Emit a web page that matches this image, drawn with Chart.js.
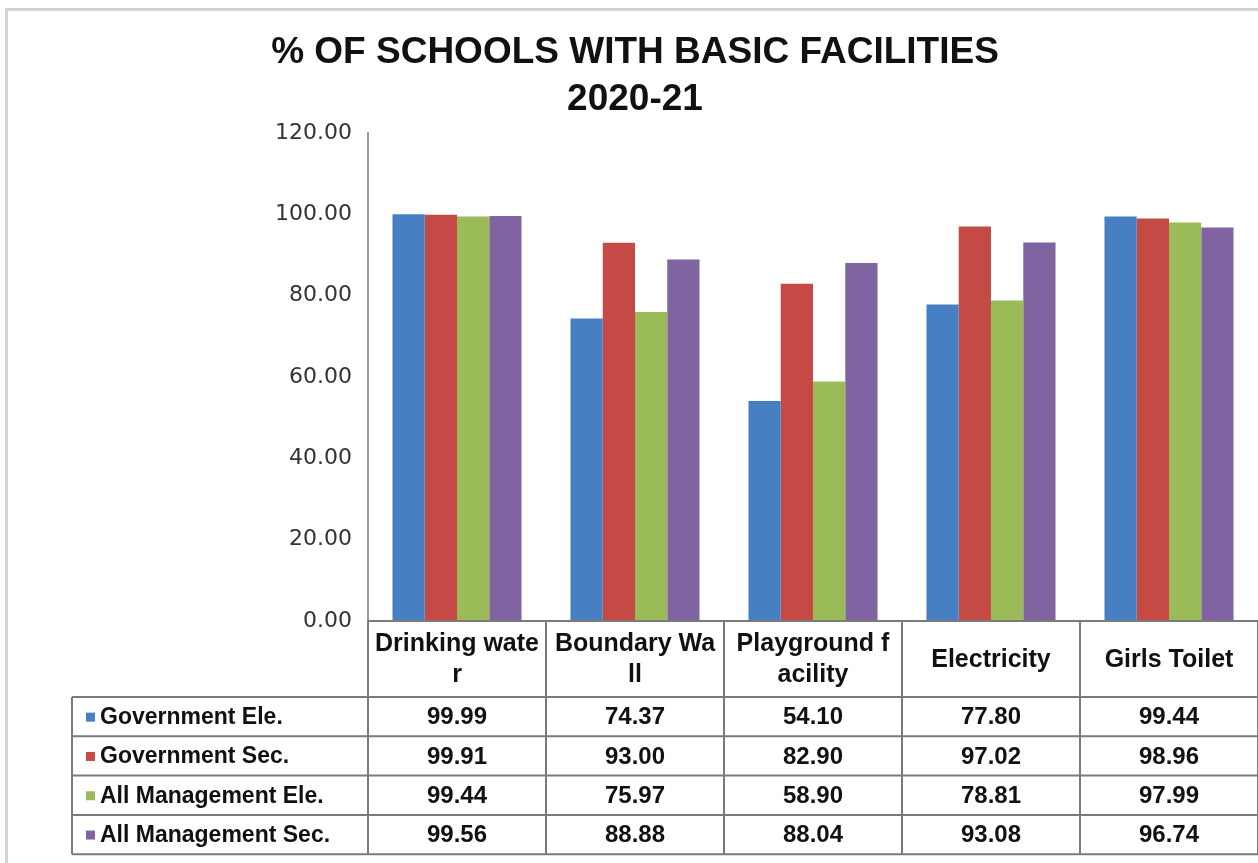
<!DOCTYPE html>
<html><head><meta charset="utf-8">
<script src="https://cdn.jsdelivr.net/npm/chart.js@4"></script>
<style>html,body{margin:0;padding:0;background:#fff;overflow:hidden}#wrap{position:relative;width:1258px;height:863px}</style>
</head><body><div id="wrap"><canvas id="c" width="1258" height="863"></canvas></div>
<script>
const titleLines = ['% OF SCHOOLS WITH BASIC FACILITIES', '2020-21'];
const categories = [['Drinking wate', 'r'], ['Boundary Wa', 'll'], ['Playground f', 'acility'], 'Electricity', 'Girls Toilet'];
const seriesNames = ['Government Ele.', 'Government Sec.', 'All Management Ele.', 'All Management Sec.'];
const govEle = [99.99, 74.37, 54.10, 77.80, 99.44];
const govSec = [99.91, 93.00, 82.90, 97.02, 98.96];
const allEle = [99.44, 75.97, 58.90, 78.81, 97.99];
const allSec = [99.56, 88.88, 88.04, 93.08, 96.74];
const yMin = 0, yMax = 120, yStep = 20;
const colors = ['#4680C2', '#C54A45', '#9BBB59', '#8064A2'];

const seriesValues = [govEle, govSec, allEle, allSec];

const framePlugin = {
  id: 'frame',
  beforeDraw(chart) {
    const ctx = chart.ctx;
    ctx.save();
    ctx.fillStyle = '#fff';
    ctx.fillRect(0, 0, chart.width, chart.height);
    ctx.strokeStyle = '#d2d2d2';
    ctx.lineWidth = 3;
    ctx.beginPath();
    ctx.moveTo(5, 9.5); ctx.lineTo(chart.width, 9.5);
    ctx.moveTo(6.5, 9); ctx.lineTo(6.5, chart.height);
    ctx.stroke();
    ctx.restore();
  }
};

const tablePlugin = {
  id: 'dataTable',
  afterDraw(chart) {
    const ctx = chart.ctx, ca = chart.chartArea, xs = chart.scales.x;
    const n = chart.data.labels.length;
    const colW = (ca.right - ca.left) / n;
    const top = ca.bottom;
    const headerH = 76;
    const rowH = 39.3;
    const left = 72;
    const nRows = chart.data.datasets.length;
    const rowsTop = top + headerH;
    const bottom = rowsTop + nRows * rowH;
    ctx.save();
    ctx.strokeStyle = '#7a7a7a';
    ctx.lineWidth = 2;
    ctx.beginPath();
    ctx.moveTo(ca.left, top); ctx.lineTo(ca.right, top);
    for (let i = 0; i <= nRows; i++) {
      const y = rowsTop + i * rowH;
      ctx.moveTo(left, y); ctx.lineTo(ca.right, y);
    }
    ctx.moveTo(left, rowsTop); ctx.lineTo(left, bottom);
    for (let k = 0; k <= n; k++) {
      const x = ca.left + k * colW;
      ctx.moveTo(x, top); ctx.lineTo(x, bottom);
    }
    ctx.stroke();

    ctx.fillStyle = '#111';
    ctx.textAlign = 'center';
    ctx.textBaseline = 'middle';
    ctx.font = 'bold 25px "Liberation Sans", Arial, sans-serif';
    const headMid = top + headerH / 2 + 1;
    chart.data.labels.forEach((lab, i) => {
      const cx = xs.getPixelForTick(i);
      const lines = Array.isArray(lab) ? lab : [lab];
      const lh = 31;
      lines.forEach((ln, j) => {
        const y = headMid + (j - (lines.length - 1) / 2) * lh;
        ctx.fillText(ln, cx, y);
      });
    });

    chart.data.datasets.forEach((ds, r) => {
      const cy = rowsTop + r * rowH + rowH / 2 + 1;
      ctx.fillStyle = ds.backgroundColor;
      ctx.fillRect(86, cy - 5, 9, 9);
      ctx.fillStyle = '#111';
      ctx.textAlign = 'left';
      ctx.font = 'bold 23px "Liberation Sans", Arial, sans-serif';
      ctx.fillText(ds.label, 100, cy);
      ctx.textAlign = 'center';
      ctx.font = 'bold 24px "Liberation Sans", Arial, sans-serif';
      ds.data.forEach((v, i) => {
        ctx.fillText(v.toFixed(2), xs.getPixelForTick(i), cy);
      });
    });
    ctx.restore();
  }
};

new Chart(document.getElementById('c'), {
  type: 'bar',
  data: {
    labels: categories,
    datasets: seriesNames.map((name, i) => ({
      label: name,
      data: seriesValues[i],
      backgroundColor: colors[i],
      borderWidth: 0,
      categoryPercentage: 0.725,
      barPercentage: 1.0
    }))
  },
  options: {
    responsive: false,
    animation: false,
    devicePixelRatio: 1,
    layout: { padding: { left: 12, right: 0, top: 0, bottom: 242 } },
    plugins: {
      legend: { display: false },
      tooltip: { enabled: false },
      title: {
        display: true,
        text: titleLines,
        color: '#111',
        font: { family: '"Liberation Sans", Arial, sans-serif', size: 37, weight: 'bold', lineHeight: 1.27 },
        padding: { top: 29, bottom: 10 }
      }
    },
    scales: {
      x: {
        ticks: { display: false },
        grid: { display: false, drawTicks: false },
        border: { display: false }
      },
      y: {
        min: yMin, max: yMax,
        ticks: {
          stepSize: yStep,
          padding: 16,
          color: '#333',
          font: { family: '"DejaVu Sans", sans-serif', size: 22 },
          callback: v => Number(v).toFixed(2)
        },
        grid: { display: false, drawTicks: false },
        border: { display: true, color: '#9a9a9a', width: 2 },
        afterFit(scale) { scale.width = 356; }
      }
    }
  },
  plugins: [framePlugin, tablePlugin]
});
</script>
</body></html>
